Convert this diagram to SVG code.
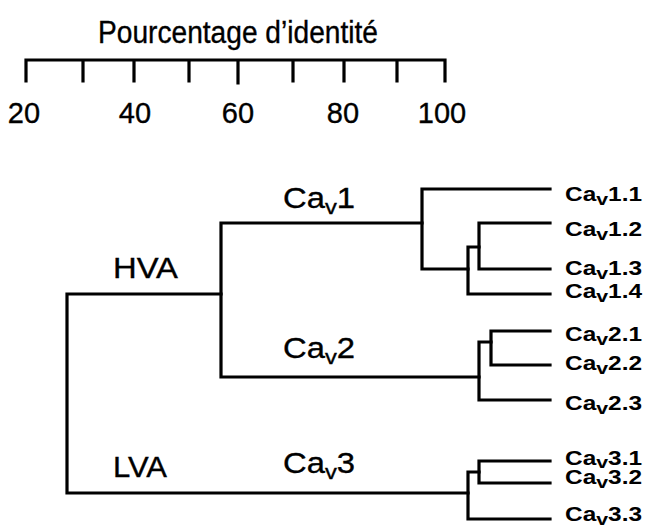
<svg xmlns="http://www.w3.org/2000/svg" width="646" height="529" viewBox="0 0 646 529">
  <style>
    .ln { fill: none; stroke: #000; stroke-width: 3.2; stroke-linecap: square; stroke-linejoin: miter; }
    text { font-family: "Liberation Sans", Arial, sans-serif; fill: #000; stroke: #000; stroke-width: 0.35; }
    .title { font-size: 31px; }
    .num { font-size: 29px; text-anchor: middle; }
    .grp { font-size: 29px; }
    .cav { font-size: 29px; }
    .cav .sub { font-size: 21px; }
    .leaf { font-size: 19.5px; font-weight: bold; stroke-width: 0; }
    .leaf .sub { font-size: 17px; }
  </style>

  <!-- identity scale -->
  <g id="scale">
    <text class="title" x="98" y="43" textLength="280" lengthAdjust="spacingAndGlyphs">Pourcentage d’identité</text>
    <path class="ln" d="M26 60 H445 M26 60 V81 M83 60 V81 M134 60 V81 M189 60 V81 M238 60 V83 M293 60 V81 M344 60 V81 M397 60 V81 M445 60 V81"/>
    <text class="num" x="24" y="123">20</text>
    <text class="num" x="135" y="123">40</text>
    <text class="num" x="238" y="123">60</text>
    <text class="num" x="343" y="123">80</text>
    <text class="num" x="442" y="123">100</text>
  </g>

  <!-- tree branches -->
  <g id="connectors">
    <path class="ln" d="M221 294 H67 V493 H468"/>
    <path class="ln" d="M422 223 H221 V377 H479"/>
    <path class="ln" d="M550 189 H422 V269 H468"/>
    <path class="ln" d="M479 247 H468 V294 H550"/>
    <path class="ln" d="M550 223 H479 V269 H550"/>
    <path class="ln" d="M491 342 H479 V400 H550"/>
    <path class="ln" d="M550 331 H491 V365 H550"/>
    <path class="ln" d="M479 472 H468 V519 H550"/>
    <path class="ln" d="M550 461 H479 V483 H550"/>
  </g>

  <!-- clade labels -->
  <g id="hva"><text class="grp" x="113" y="278" textLength="65" lengthAdjust="spacingAndGlyphs">HVA</text></g>
  <g id="lva"><text class="grp" x="113" y="477" textLength="54" lengthAdjust="spacingAndGlyphs">LVA</text></g>
  <g id="cav1"><text class="cav" x="283" y="208" textLength="72" lengthAdjust="spacingAndGlyphs">Ca<tspan class="sub" dy="6">v</tspan><tspan dy="-6">1</tspan></text></g>
  <g id="cav2"><text class="cav" x="283" y="358" textLength="72" lengthAdjust="spacingAndGlyphs">Ca<tspan class="sub" dy="6">v</tspan><tspan dy="-6">2</tspan></text></g>
  <g id="cav3"><text class="cav" x="283" y="473" textLength="72" lengthAdjust="spacingAndGlyphs">Ca<tspan class="sub" dy="6">v</tspan><tspan dy="-6">3</tspan></text></g>

  <!-- leaves -->
  <g id="cav1-1"><text class="leaf" x="565" y="201" textLength="77" lengthAdjust="spacingAndGlyphs">Ca<tspan class="sub" dy="4">v</tspan><tspan dy="-4">1.1</tspan></text></g>
  <g id="cav1-2"><text class="leaf" x="565" y="236" textLength="77" lengthAdjust="spacingAndGlyphs">Ca<tspan class="sub" dy="4">v</tspan><tspan dy="-4">1.2</tspan></text></g>
  <g id="cav1-3"><text class="leaf" x="565" y="275" textLength="77" lengthAdjust="spacingAndGlyphs">Ca<tspan class="sub" dy="4">v</tspan><tspan dy="-4">1.3</tspan></text></g>
  <g id="cav1-4"><text class="leaf" x="565" y="298" textLength="77" lengthAdjust="spacingAndGlyphs">Ca<tspan class="sub" dy="4">v</tspan><tspan dy="-4">1.4</tspan></text></g>
  <g id="cav2-1"><text class="leaf" x="565" y="341" textLength="77" lengthAdjust="spacingAndGlyphs">Ca<tspan class="sub" dy="4">v</tspan><tspan dy="-4">2.1</tspan></text></g>
  <g id="cav2-2"><text class="leaf" x="565" y="370" textLength="77" lengthAdjust="spacingAndGlyphs">Ca<tspan class="sub" dy="4">v</tspan><tspan dy="-4">2.2</tspan></text></g>
  <g id="cav2-3"><text class="leaf" x="565" y="410" textLength="77" lengthAdjust="spacingAndGlyphs">Ca<tspan class="sub" dy="4">v</tspan><tspan dy="-4">2.3</tspan></text></g>
  <g id="cav3-1"><text class="leaf" x="565" y="465" textLength="77" lengthAdjust="spacingAndGlyphs">Ca<tspan class="sub" dy="3">v</tspan><tspan dy="-3">3.1</tspan></text></g>
  <g id="cav3-2"><text class="leaf" x="565" y="484" textLength="77" lengthAdjust="spacingAndGlyphs">Ca<tspan class="sub" dy="4">v</tspan><tspan dy="-4">3.2</tspan></text></g>
  <g id="cav3-3"><text class="leaf" x="565" y="521" textLength="77" lengthAdjust="spacingAndGlyphs">Ca<tspan class="sub" dy="4">v</tspan><tspan dy="-4">3.3</tspan></text></g>
</svg>
